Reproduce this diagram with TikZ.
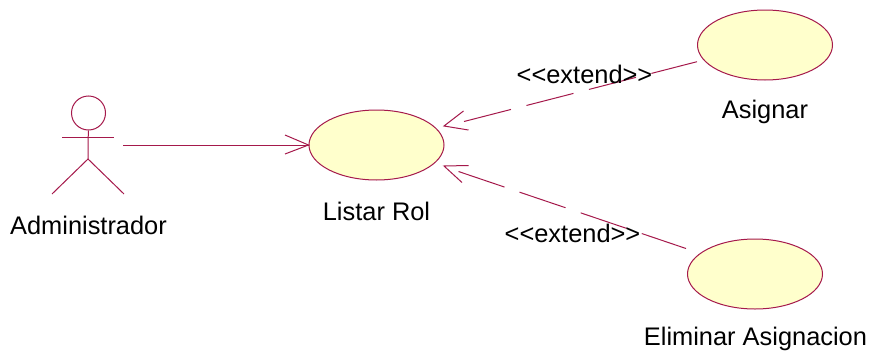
\documentclass[tikz,border=0pt]{standalone}
\usepackage{fontspec}
\setmainfont{Liberation Sans}
\usetikzlibrary{shapes.geometric}
\definecolor{umlline}{RGB}{165,25,75}
\definecolor{umlfill}{RGB}{255,255,204}
\tikzset{
  x=1pt,y=-1pt,
  usecase/.style={ellipse,draw=umlline,fill=umlfill,line width=1pt,minimum width=135pt,minimum height=70pt,inner sep=0pt},
  umltext/.style={text=black,font=\fontsize{25.4}{28}\selectfont,inner sep=0pt},
  umlstroke/.style={draw=umlline,line width=1pt},
  dashlink/.style={umlstroke,dash pattern=on 48.5pt off 16pt}
}
\begin{document}
\begin{tikzpicture}
\useasboundingbox[fill=white] (0,0) rectangle (873,359);
\node[usecase] (listar) at (376.5,145) {};
\node[usecase] (asignar) at (765,45) {};
\node[usecase] (eliminar) at (755,274) {};
% extend 1
\coordinate (e1s) at (464,121.5);
\coordinate (e1e) at (697,61.7);
\coordinate (e1tip) at (444,126);
\coordinate (e1a) at (463.5,111);
\coordinate (e1b) at (468.5,130);
\draw[dashlink] (e1s) -- (e1e);
\draw[umlstroke] (e1a) -- (e1tip) -- (e1b);
% extend 2
\coordinate (e2s) at (458.5,171.5);
\coordinate (e2e) at (686,248.5);
\coordinate (e2tip) at (444,166);
\coordinate (e2a) at (468.5,165.5);
\coordinate (e2b) at (462,182.5);
\draw[dashlink] (e2s) -- (e2e);
\draw[umlstroke] (e2a) -- (e2tip) -- (e2b);
\node[umltext] (ladmin) at (88.5,225) {Administrador};
\node[umltext] (llistar) at (376.5,211) {Listar Rol};
\node[umltext] (lasignar) at (765,112) {Asignar};
\node[umltext] (leliminar) at (755.5,339) {Eliminar Asignacion};
\node[umltext] (lext1) at (584.5,74) {<{}<extend>{}>};
\node[umltext] (lext2) at (572.5,233) {<{}<extend>{}>};
% actor
\node[circle,umlstroke,minimum size=34pt,inner sep=0pt] (head) at (88.5,113) {};
\coordinate (shl) at (62,137);
\coordinate (shr) at (114,137);
\coordinate (hip) at (88,159);
\coordinate (footl) at (52,194);
\coordinate (footr) at (124,194);
\draw[umlstroke] (shl) -- (shr);
\draw[umlstroke] (head) -- (hip);
\draw[umlstroke] (footl) -- (hip) -- (footr);
% association
\coordinate (assocs) at (123,145);
\coordinate (barba) at (285,135);
\coordinate (barbb) at (285,154);
\draw[umlstroke] (assocs) -- (listar.west);
\draw[umlstroke] (barba) -- (listar.west) -- (barbb);
\end{tikzpicture}
\end{document}
